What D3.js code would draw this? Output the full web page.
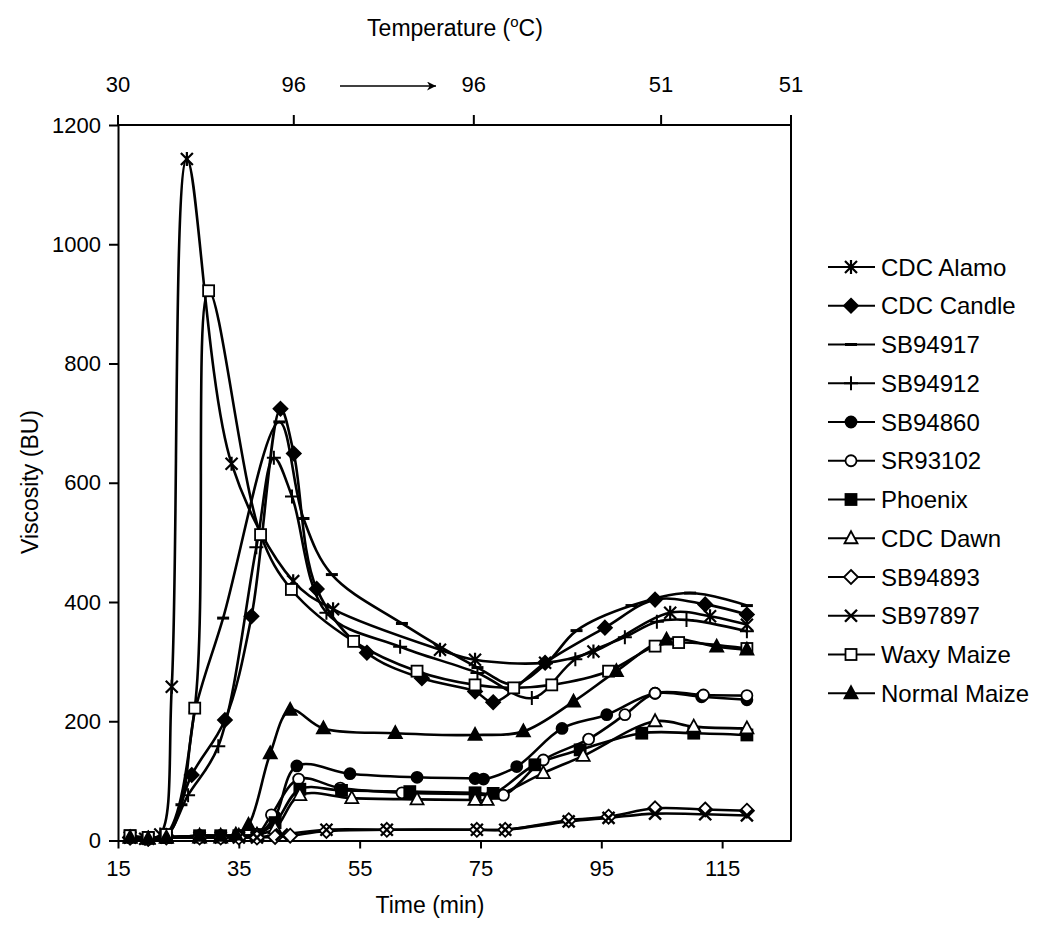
<!DOCTYPE html>
<html>
<head>
<meta charset="utf-8">
<script src="https://cdn.jsdelivr.net/npm/d3@7"></script>
<style>
body { margin: 0; background: #fff; }
text { font-family: "Liberation Sans", Arial, sans-serif; fill: #000; }
</style>
</head>
<body>
<div id="chart"></div>
<script>
// series names and marker styles (legend order)
var seriesNames = ['CDC Alamo', 'CDC Candle', 'SB94917', 'SB94912', 'SB94860', 'SR93102',
                   'Phoenix', 'CDC Dawn', 'SB94893', 'SB97897', 'Waxy Maize', 'Normal Maize'];
var markerTypes = ['star', 'diamondFilled', 'dash', 'plus', 'circleFilled', 'circleOpen',
                   'squareFilled', 'triangleOpen', 'diamondOpen', 'cross', 'squareOpen', 'triangleFilled'];

// [time (min), viscosity (BU)]
var cdcAlamo = [[17,5],[19.5,3],[22,10],[23.9,258],[26.4,1143],[33.8,632],[44,435],[50.6,388],
                [68.3,320],[74.1,303],[85.7,298],[93.7,317],[106.4,382],[113,376],[119.1,362]];
var cdcCandle = [[17,5],[20,3],[23,8],[27.2,110],[32.7,202],[37.1,376],[41.9,724],[44.1,649],
                 [47.9,422],[56.2,315],[65.3,272],[74.1,250],[77.1,232],[85.7,298],[95.6,357],
                 [103.9,404],[112.2,396],[119.1,379]];
var sb94917 = [[17,5],[20,3],[23,8],[25.5,60],[27.7,215],[32.4,373],[41.7,702],[45.7,540],
               [50.4,446],[62,364],[74.5,290],[80.5,262],[86,298],[90.9,352],[100,394],
               [109.7,415],[119.1,394]];
var sb94912 = [[17,5],[20,3],[23,8],[26.6,76],[31.6,158],[37.9,492],[40.8,642],[43.8,577],
               [49.5,382],[61.7,325],[74.5,281],[83.5,239],[90.7,304],[98.9,341],[104.2,367],
               [109.1,370],[119.1,351]];
var sb94860 = [[17,5],[20,3],[23,5],[28.5,8],[32,8],[35,8],[38,10],[41,40],[44.6,125],[53.4,112],
               [64.5,106],[74.1,104],[75.5,103],[81,124],[88.5,188],[95.9,211],[103.9,247],
               [111.6,241],[119.1,236]];
var sr93102 = [[17,5],[20,3],[23,5],[28.5,8],[32,8],[35,8],[38,10],[40.4,43],[44.9,103],[51.8,88],
               [62,80],[74.1,78],[78.8,76],[85.4,135],[92.9,170],[98.9,211],[103.9,247],
               [111.9,244],[119.1,243]];
var phoenix = [[17,8],[20,5],[23,5],[28.5,8],[32,8],[35,8],[38,10],[41,30],[45.1,86],[52,84],
               [63.3,82],[74.1,80],[77.1,79],[84,127],[91.5,152],[101.7,180],[110.3,180],[119.1,177]];
var cdcDawn = [[17,5],[20,3],[23,5],[28.5,5],[32,5],[35,8],[38,10],[41,20],[45.1,76],[53.7,71],
               [64.5,69],[74.1,68],[76.1,68],[85.4,113],[92,142],[103.9,200],[110.3,191],[119.1,188]];
var sb94893 = [[17,5],[20,3],[23,5],[28.5,5],[32,5],[35,5],[38,5],[41,6],[43.5,8],[49.5,16],
               [59.5,18],[74.4,18],[79.1,18],[89.6,34],[96.2,40],[103.9,54],[112.2,52],[119.1,50]];
var sb97897 = [[17,5],[20,3],[23,5],[28.5,5],[32,5],[35,5],[38,5],[42.1,10],[49.5,18],
               [59.5,18],[74.4,18],[79.1,18],[89.6,32],[96.2,38],[103.9,45],[112.2,44],[119.1,42]];
var waxyMaize = [[17,8],[20,5],[23,10],[27.7,222],[30,922],[38.6,513],[43.7,421],[54,334],
                 [64.5,284],[74.1,261],[80.5,256],[86.8,261],[96.2,284],[103.9,326],[107.8,332],
                 [119.1,322]];
var normalMaize = [[17,5],[20,3],[23,5],[28.5,8],[32,8],[34.5,10],[36.6,26],[40.2,146],[43.5,219],
                   [49,188],[60.9,180],[74.1,177],[82.1,183],[90.4,233],[97.5,284],[105.8,337],
                   [114.1,325],[119.1,320]];

var seriesData = [cdcAlamo, cdcCandle, sb94917, sb94912, sb94860, sr93102,
                  phoenix, cdcDawn, sb94893, sb97897, waxyMaize, normalMaize];

// axis ticks
var timeTicks = [15, 35, 55, 75, 95, 115];
var viscTicks = [0, 200, 400, 600, 800, 1000, 1200];
var tempTickTimes = [15, 44.1, 73.9, 104.9, 126.4];
var tempTickLabels = ['30', '96', '96', '51', '51'];

var width = 1047, height = 928;
var plotLeft = 118, plotRight = 791, plotTop = 125, plotBottom = 840.5;

var x = d3.scaleLinear().domain([15, 126.4]).range([plotLeft, plotRight]);
var y = d3.scaleLinear().domain([0, 1200]).range([plotBottom, plotTop]);

var svg = d3.select('#chart').append('svg')
    .attr('width', width)
    .attr('height', height)
    .style('background', '#fff');

// frame lines
svg.append('line').attr('x1', plotLeft).attr('x2', plotRight).attr('y1', plotTop).attr('y2', plotTop)
    .attr('stroke', '#000').attr('stroke-width', 2);
svg.append('line').attr('x1', plotRight).attr('x2', plotRight).attr('y1', plotTop - 10).attr('y2', plotBottom)
    .attr('stroke', '#000').attr('stroke-width', 2);
svg.append('line').attr('x1', plotLeft).attr('x2', plotLeft).attr('y1', plotTop - 10).attr('y2', plotTop)
    .attr('stroke', '#000').attr('stroke-width', 2);

// bottom axis
var xAxis = svg.append('g')
    .attr('transform', 'translate(0,' + plotBottom + ')')
    .call(d3.axisBottom(x).tickValues(timeTicks).tickSize(8).tickSizeOuter(0).tickPadding(12));
xAxis.selectAll('text').style('font-size', '22px');

// left axis
var yAxis = svg.append('g')
    .attr('transform', 'translate(' + plotLeft + ',0)')
    .call(d3.axisLeft(y).tickValues(viscTicks).tickFormat(d3.format('d'))
        .tickSize(9).tickSizeOuter(0).tickPadding(8));
yAxis.selectAll('text').style('font-size', '22px');

[xAxis, yAxis].forEach(function(a) {
    a.selectAll('path.domain').attr('stroke-width', 2);
    a.selectAll('.tick line').attr('stroke-width', 2);
});

// top temperature axis
svg.selectAll('line.ttick').data(tempTickTimes.slice(1, 4))
    .enter().append('line')
    .attr('x1', function(d) { return x(d); })
    .attr('x2', function(d) { return x(d); })
    .attr('y1', plotTop - 10).attr('y2', plotTop)
    .attr('stroke', '#000').attr('stroke-width', 2);

svg.selectAll('text.tlabel').data(tempTickTimes)
    .enter().append('text')
    .attr('x', function(d) { return x(d); })
    .attr('y', 92)
    .attr('text-anchor', 'middle')
    .style('font-size', '22px')
    .text(function(d, i) { return tempTickLabels[i]; });

// arrow between the two 96 labels
svg.append('defs').append('marker')
    .attr('id', 'arrowhead')
    .attr('viewBox', '0 0 10 10')
    .attr('refX', 10).attr('refY', 5)
    .attr('markerWidth', 26).attr('markerHeight', 9)
    .attr('markerUnits', 'userSpaceOnUse')
    .attr('orient', 'auto')
    .append('path').attr('d', 'M0,0 L10,5 L0,10 L3,5 Z').attr('fill', '#000');
svg.append('line')
    .attr('x1', 340).attr('x2', 436).attr('y1', 86).attr('y2', 86)
    .attr('stroke', '#000').attr('stroke-width', 1.5)
    .attr('marker-end', 'url(#arrowhead)');

// axis titles
var tt = svg.append('text')
    .attr('x', 455).attr('y', 36)
    .attr('text-anchor', 'middle')
    .style('font-size', '23px');
tt.append('tspan').text('Temperature (');
tt.append('tspan').attr('dy', -9).style('font-size', '15px').text('o');
tt.append('tspan').attr('dy', 9).text('C)');

svg.append('text')
    .attr('x', 430).attr('y', 913)
    .attr('text-anchor', 'middle')
    .style('font-size', '23px')
    .text('Time (min)');

svg.append('text')
    .attr('transform', 'translate(38,482) rotate(-90)')
    .attr('text-anchor', 'middle')
    .style('font-size', '23px')
    .text('Viscosity (BU)');

// marker drawing
function drawMarker(g, type) {
    var filled = /Filled/.test(type);
    if (type === 'star') {
        g.append('path').attr('d', 'M-6,-6L6,6M-6,6L6,-6M0,-7L0,7')
            .attr('stroke', '#000').attr('stroke-width', 2.2).attr('fill', 'none');
    } else if (type === 'cross') {
        g.append('path').attr('d', 'M-6,-6L6,6M-6,6L6,-6')
            .attr('stroke', '#000').attr('stroke-width', 2.4).attr('fill', 'none');
    } else if (type === 'plus') {
        g.append('path').attr('d', 'M-7,0L7,0M0,-7L0,7')
            .attr('stroke', '#000').attr('stroke-width', 2).attr('fill', 'none');
    } else if (type === 'dash') {
        g.append('path').attr('d', 'M-6,0L6,0')
            .attr('stroke', '#000').attr('stroke-width', 3).attr('fill', 'none');
    } else if (/circle/.test(type)) {
        g.append('circle').attr('r', 5.5)
            .attr('fill', filled ? '#000' : '#fff').attr('stroke', '#000').attr('stroke-width', 1.8);
    } else if (/square/.test(type)) {
        g.append('rect').attr('x', -5.5).attr('y', -5.5).attr('width', 11).attr('height', 11)
            .attr('fill', filled ? '#000' : '#fff').attr('stroke', '#000').attr('stroke-width', 1.8);
    } else if (/diamond/.test(type)) {
        g.append('path').attr('d', 'M0,-7L7,0L0,7L-7,0Z')
            .attr('fill', filled ? '#000' : '#fff').attr('stroke', '#000').attr('stroke-width', 1.8);
    } else if (/triangle/.test(type)) {
        g.append('path').attr('d', 'M0,-7L6.5,5L-6.5,5Z')
            .attr('fill', filled ? '#000' : '#fff').attr('stroke', '#000').attr('stroke-width', 1.8);
    }
}

// lines
var line = d3.line()
    .x(function(d) { return x(d[0]); })
    .y(function(d) { return y(d[1]); })
    .curve(d3.curveCatmullRom.alpha(0.5));

var plot = svg.append('g');

seriesData.forEach(function(data, i) {
    plot.append('path')
        .datum(data)
        .attr('d', line)
        .attr('fill', 'none')
        .attr('stroke', '#000')
        .attr('stroke-width', 2.6);
});

seriesData.forEach(function(data, i) {
    plot.selectAll('g.m' + i).data(data)
        .enter().append('g')
        .attr('class', 'm' + i)
        .attr('transform', function(d) { return 'translate(' + x(d[0]) + ',' + y(d[1]) + ')'; })
        .each(function() { drawMarker(d3.select(this), markerTypes[i]); });
});

// legend
var legendY0 = 267, legendStep = 38.75;
var legend = svg.selectAll('g.legend').data(seriesNames)
    .enter().append('g')
    .attr('class', 'legend')
    .attr('transform', function(d, i) { return 'translate(0,' + (legendY0 + i * legendStep) + ')'; });

legend.append('line')
    .attr('x1', 828).attr('x2', 875).attr('y1', 0).attr('y2', 0)
    .attr('stroke', '#000').attr('stroke-width', 2);

legend.append('g')
    .attr('transform', 'translate(851,0)')
    .each(function(d, i) { drawMarker(d3.select(this), markerTypes[i]); });

legend.append('text')
    .attr('x', 881).attr('y', 8.5)
    .style('font-size', '24px')
    .text(function(d) { return d; });
</script>
</body>
</html>
